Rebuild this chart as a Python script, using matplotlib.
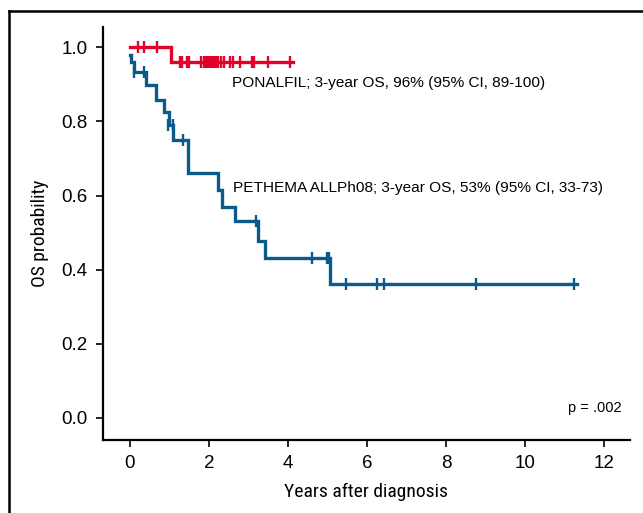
import matplotlib
matplotlib.use("Agg")
import matplotlib.pyplot as plt
from matplotlib.lines import Line2D
from matplotlib import font_manager

# ---------------- data ----------------
# PONALFIL KM curve (step times / survival)
pon_times = [0.0, 1.03, 4.12]
pon_surv = [1.0, 0.96, 0.96]
pon_cens_t = [0.21, 0.35, 0.69,
              1.27, 1.33, 1.45, 1.50, 1.81, 1.87, 1.92, 1.98, 2.03, 2.08,
              2.13, 2.18, 2.24, 2.30, 2.38, 2.53, 2.60, 2.78, 3.08, 3.14,
              3.50, 4.05]
pon_cens_s = [1.0, 1.0, 1.0] + [0.96] * 22

# PETHEMA ALLPh08 KM curve
pet_times = [0.0, 0.02, 0.10, 0.42, 0.65, 0.87, 0.99, 1.10, 1.46, 2.24,
             2.32, 2.67, 3.25, 3.42, 5.06, 11.32]
pet_surv = [0.98, 0.96, 0.933, 0.898, 0.857, 0.825, 0.79, 0.749, 0.66,
            0.616, 0.57, 0.53, 0.477, 0.432, 0.36, 0.36]
pet_cens_t = [0.10, 0.35, 0.97, 1.10, 1.35, 3.20, 4.62, 5.00, 5.05,
              5.46, 6.26, 6.43, 8.75, 11.24]
pet_cens_s = [0.933, 0.933, 0.79, 0.79, 0.749, 0.53, 0.432, 0.432, 0.432,
              0.36, 0.36, 0.36, 0.36, 0.36]

xticks = [0, 2, 4, 6, 8, 10, 12]
yticks = [0.0, 0.2, 0.4, 0.6, 0.8, 1.0]
ytick_labels = ["0.0", "0.2", "0.4", "0.6", "0.8", "1.0"]

pon_label = "PONALFIL; 3-year OS, 96% (95% CI, 89-100)"
pet_label = "PETHEMA ALLPh08; 3-year OS, 53% (95% CI, 33-73)"
p_text = "p = .002"
xlabel = "Years after diagnosis"
ylabel = "OS probability"

RED = "#E3002B"
BLUE = "#0A5A8C"

# ---------------- fonts ----------------
names = {f.name for f in font_manager.fontManager.ttflist}
cond = None
for cand in ["Roboto Condensed", "Liberation Sans Narrow", "Open Sans Condensed",
             "Noto Sans Condensed", "DejaVu Sans Condensed"]:
    if cand in names:
        cond = dict(family=cand)
        break
if cond is None:
    cond = dict(family="Liberation Sans")
base = "Liberation Sans"

# ---------------- figure ----------------
fig = plt.figure(figsize=(6.43, 5.13), dpi=100)
ax = fig.add_axes([103 / 643, 1 - 440 / 513, (630 - 103) / 643, (440 - 27) / 513])

ax.step(pet_times, pet_surv, where="post", color=BLUE, lw=2.4, solid_joinstyle="miter")
ax.plot(pet_cens_t, pet_cens_s, ls="none", marker="|", ms=9, mew=1.7, color=BLUE)
ax.step(pon_times, pon_surv, where="post", color=RED, lw=2.4, solid_joinstyle="miter")
ax.plot(pon_cens_t, pon_cens_s, ls="none", marker="|", ms=9, mew=1.7, color=RED)

ax.set_xlim(-0.68, 12.66)
ax.set_ylim(-0.06, 1.055)
ax.set_xticks(xticks)
ax.set_xticklabels([str(t) for t in xticks], family=base, fontsize=13.5)
ax.set_yticks(yticks)
ax.set_yticklabels(ytick_labels, family=base, fontsize=13.5)
ax.tick_params(direction="out", length=5, width=1.2, pad=6)

for s in ["top", "right"]:
    ax.spines[s].set_visible(False)
for s in ["left", "bottom"]:
    ax.spines[s].set_linewidth(1.6)

ax.text(2.58, 0.903, pon_label, family=base, fontsize=11.05, va="center", ha="left")
ax.text(2.61, 0.62, pet_label, family=base, fontsize=11.05, va="center", ha="left")
ax.text(12.45, 0.027, p_text, family=base, fontsize=10.5, va="center", ha="right")

ax.set_xlabel(xlabel, fontsize=14, labelpad=8, **cond)
ax.set_ylabel(ylabel, fontsize=14, labelpad=9, **cond)

# outer frame (right and bottom edges outside the image)
fig.add_artist(Line2D([8.5 / 643, 1.0], [1 - 11 / 513, 1 - 11 / 513], color="black", lw=1.8, transform=fig.transFigure))
fig.add_artist(Line2D([9 / 643, 9 / 643], [0.0, 1 - 11 / 513], color="black", lw=1.8, transform=fig.transFigure))

fig.savefig("out.png", dpi=100)
